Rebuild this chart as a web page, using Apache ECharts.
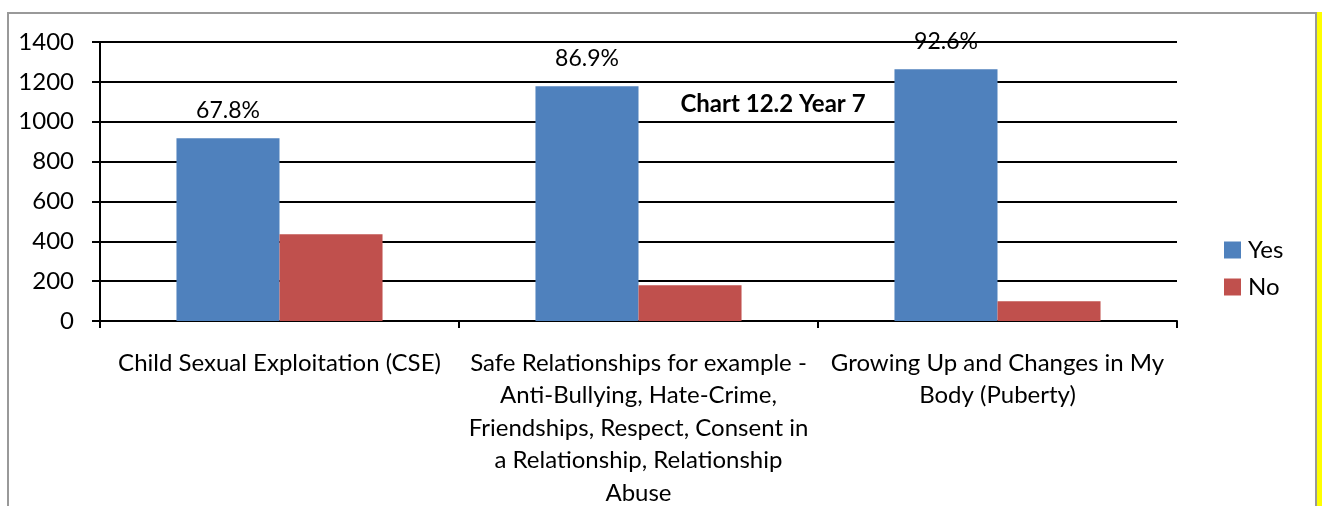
<!DOCTYPE html>
<html><head><meta charset="utf-8">
<script src="https://cdn.jsdelivr.net/npm/echarts@6/dist/echarts.min.js"></script>
<style>html,body{margin:0;padding:0;background:#fff}#c{width:1322px;height:506px}</style>
</head><body><div id="c"></div>
<script>
const categories = [
  'Child Sexual Exploitation (CSE)',
  'Safe Relationships for example -\nAnti-Bullying, Hate-Crime,\nFriendships, Respect, Consent in\na Relationship, Relationship\nAbuse',
  'Growing Up and Changes in My\nBody (Puberty)'
];
const yesValues = [917, 1178, 1263];
const noValues = [435, 179, 99];
const yesPercentLabels = ['67.8%', '86.9%', '92.6%'];
const titleText = 'Chart 12.2 Year 7';
const FONT = 'Lato';

const chart = echarts.init(document.getElementById('c'), null, {renderer: 'canvas'});
chart.setOption({
  animation: false,
  backgroundColor: '#fff',
  textStyle: {fontFamily: FONT},
  graphic: [
    {type: 'rect', shape: {x: 8, y: 13, width: 1308, height: 520}, style: {fill: 'none', stroke: '#999', lineWidth: 2}, z: 0},
    {type: 'rect', shape: {x: 1317, y: 12, width: 6, height: 500}, style: {fill: '#ffff00'}, z: 0}
  ],
  title: {
    text: titleText, left: 768, top: 87, textAlign: 'center',
    textStyle: {fontFamily: FONT, fontSize: 24, fontWeight: 'bold', color: '#000'}
  },
  legend: {
    orient: 'vertical', left: 1219, top: 233, itemWidth: 17, itemHeight: 17, itemGap: 13,
    icon: 'rect',
    textStyle: {fontFamily: FONT, fontSize: 24, color: '#000', padding: [0,0,0,2]},
    data: ['Yes', 'No']
  },
  grid: {left: 100, right: 145, top: 42, bottom: 185, containLabel: false, outerBoundsMode: 'none'},
  xAxis: {
    type: 'category', data: categories,
    axisLine: {lineStyle: {color: '#000', width: 2}},
    axisTick: {show: true, length: 7, lineStyle: {color: '#000', width: 2}},
    axisLabel: {color: '#000', fontFamily: FONT, fontSize: 24, lineHeight: 32.5, margin: 26, interval: 0, align: 'center'}
  },
  yAxis: {
    type: 'value', min: 0, max: 1400, interval: 200,
    axisLine: {show: true, lineStyle: {color: '#000', width: 2}},
    axisTick: {show: true, length: 8, lineStyle: {color: '#000', width: 2}},
    splitLine: {lineStyle: {color: '#000', width: 2}},
    axisLabel: {color: '#000', fontFamily: FONT, fontSize: 24, margin: 26, formatter: v => String(v)}
  },
  series: [
    {name: 'Yes', type: 'bar', data: yesValues, barWidth: '28.7%', barGap: '0%',
     itemStyle: {color: '#4F81BD'},
     label: {show: true, position: 'top', distance: 16, color: '#000', fontFamily: FONT, fontSize: 23,
       formatter: p => yesPercentLabels[p.dataIndex]}},
    {name: 'No', type: 'bar', data: noValues, barWidth: '28.7%', barGap: '0%',
     itemStyle: {color: '#C0504D'}}
  ]
});
</script></body></html>
